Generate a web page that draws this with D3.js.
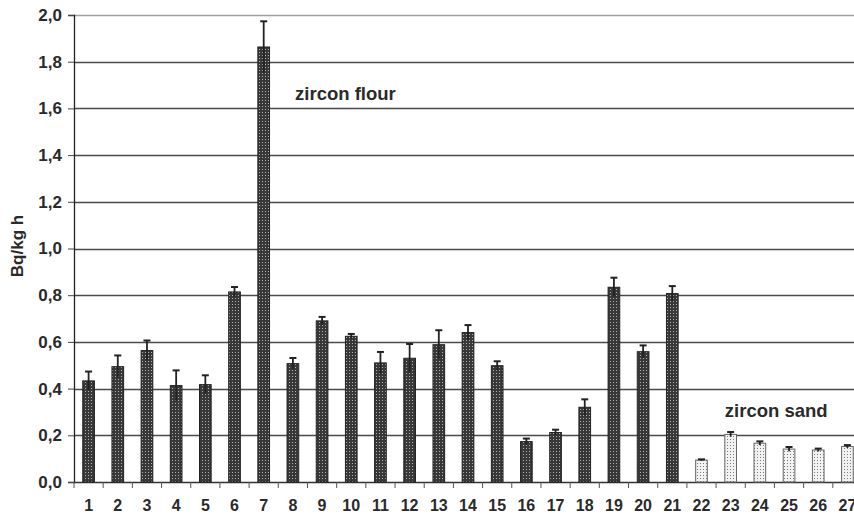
<!DOCTYPE html>
<html>
<head>
<meta charset="utf-8">
<script src="https://cdn.jsdelivr.net/npm/d3@7"></script>
<style>
  body { margin: 0; background: #fff; }
  svg { display: block; font-family: "Liberation Sans", Arial, sans-serif; }
</style>
</head>
<body>
<svg></svg>
<script>
let samples = ['1','2','3','4','5','6','7','8','9','10','11','12','13','14','15','16','17','18','19','20','21','22','23','24','25','26','27']
let values = [0.433,0.494,0.563,0.413,0.417,0.814,1.863,0.507,0.690,0.624,0.510,0.530,0.588,0.640,0.498,0.173,0.212,0.320,0.834,0.558,0.807,0.094,0.204,0.166,0.141,0.137,0.152]
let errors = [0.040,0.048,0.043,0.065,0.040,0.021,0.110,0.024,0.017,0.010,0.047,0.061,0.062,0.032,0.019,0.013,0.012,0.034,0.041,0.027,0.032,0.003,0.010,0.008,0.009,0.006,0.006]
let kinds = ['flour','flour','flour','flour','flour','flour','flour','flour','flour','flour','flour','flour','flour','flour','flour','flour','flour','flour','flour','flour','flour','sand','sand','sand','sand','sand','sand']
let yTicks = [0,0.2,0.4,0.6,0.8,1.0,1.2,1.4,1.6,1.8,2.0]

let width = 854
let height = 515
let plotLeft = 74
let plotRight = 862
let plotTop = 15
let plotBottom = 482

let svg = d3.select('svg')
svg.attr('width', width).attr('height', height)

let defs = svg.append('defs')

// dense dark hatch for zircon flour
let dark = defs.append('pattern')
    .attr('id','darkFill')
    .attr('width',3).attr('height',3)
    .attr('patternUnits','userSpaceOnUse')
dark.append('rect').attr('width',3).attr('height',3).attr('fill','#383838')
dark.append('rect').attr('x',1).attr('y',1).attr('width',1).attr('height',1).attr('fill','#b0b0b0')

// light dotted fill for zircon sand
let light = defs.append('pattern')
    .attr('id','lightFill')
    .attr('width',3).attr('height',3)
    .attr('patternUnits','userSpaceOnUse')
light.append('rect').attr('width',3).attr('height',3).attr('fill','#f2f2f2')
light.append('rect').attr('x',1).attr('y',1).attr('width',1).attr('height',1).attr('fill','#7a7a7a')

let xScale = d3.scaleBand()
    .domain(samples)
    .range([plotLeft, plotRight])
    .paddingInner(0.6)
    .paddingOuter(0.3)

let yScale = d3.scaleLinear()
    .domain([0, 2])
    .range([plotBottom, plotTop])

// grid lines
svg.append('g')
   .selectAll('line')
   .data(yTicks.filter(d => d > 0))
   .enter()
   .append('line')
   .attr('x1', plotLeft)
   .attr('x2', width)
   .attr('y1', d => Math.round(yScale(d)) + 0.5)
   .attr('y2', d => Math.round(yScale(d)) + 0.5)
   .attr('stroke', d => d === 2 ? '#9aa0a6' : '#4a4a4a')
   .attr('stroke-width', 1.3)

// y axis
let yAxis = d3.axisLeft(yScale)
    .tickValues(yTicks)
    .tickSize(6)
    .tickPadding(6)
    .tickFormat(d => d3.format('.1f')(d).replace('.', ','))

let yg = svg.append('g')
   .attr('transform', 'translate(' + plotLeft + ',0)')
   .call(yAxis)
yg.select('.domain').attr('stroke','#222').attr('stroke-width',1.3)
yg.selectAll('.tick line').attr('stroke','#444')
yg.selectAll('.tick text')
  .attr('font-size', 17)
  .attr('font-weight', 'bold')
  .attr('fill', '#2a2a2a')
  .attr('font-family', '"Liberation Sans", Arial, sans-serif')

// x axis line and ticks between categories
let step = xScale.step()
let half = step * xScale.paddingInner() / 2
svg.append('line')
   .attr('x1', plotLeft).attr('x2', width)
   .attr('y1', plotBottom + 0.5).attr('y2', plotBottom + 0.5)
   .attr('stroke', '#333').attr('stroke-width', 1.3)

svg.append('g')
   .selectAll('line')
   .data(samples)
   .enter()
   .append('line')
   .attr('x1', d => d === '1' ? plotLeft : xScale(d) - half)
   .attr('x2', d => d === '1' ? plotLeft : xScale(d) - half)
   .attr('y1', plotBottom)
   .attr('y2', plotBottom + 6)
   .attr('stroke', '#555')

svg.append('g')
   .selectAll('text')
   .data(samples)
   .enter()
   .append('text')
   .attr('x', d => xScale(d) + xScale.bandwidth() / 2)
   .attr('y', 511)
   .attr('text-anchor', 'middle')
   .attr('font-size', 16)
   .attr('font-weight', 'bold')
   .attr('fill', '#2a2a2a')
   .text(d => d)

// bars
svg.append('g')
   .selectAll('rect')
   .data(samples)
   .enter()
   .append('rect')
   .attr('x', d => xScale(d))
   .attr('y', (d, i) => yScale(values[i]))
   .attr('width', xScale.bandwidth())
   .attr('height', (d, i) => plotBottom - yScale(values[i]))
   .attr('fill', (d, i) => kinds[i] === 'flour' ? 'url(#darkFill)' : 'url(#lightFill)')
   .attr('stroke', (d, i) => kinds[i] === 'flour' ? '#222' : '#666')
   .attr('stroke-width', 1)

// error bars
let eg = svg.append('g')
eg.selectAll('line.err')
  .data(samples)
  .enter()
  .append('line')
  .attr('class', 'err')
  .attr('x1', d => xScale(d) + xScale.bandwidth() / 2)
  .attr('x2', d => xScale(d) + xScale.bandwidth() / 2)
  .attr('y1', (d, i) => yScale(values[i] - errors[i]))
  .attr('y2', (d, i) => yScale(values[i] + errors[i]))
  .attr('stroke', '#222')
  .attr('stroke-width', 1.8)
eg.selectAll('line.cap')
  .data(samples)
  .enter()
  .append('line')
  .attr('class', 'cap')
  .attr('x1', d => xScale(d) + xScale.bandwidth() / 2 - 3.5)
  .attr('x2', d => xScale(d) + xScale.bandwidth() / 2 + 3.5)
  .attr('y1', (d, i) => yScale(values[i] + errors[i]))
  .attr('y2', (d, i) => yScale(values[i] + errors[i]))
  .attr('stroke', '#222')
  .attr('stroke-width', 2)

// annotations
svg.append('text')
   .attr('x', xScale('8') + 8)
   .attr('y', yScale(1.635))
   .attr('font-size', 18.5)
   .attr('font-weight', 'bold')
   .attr('fill', '#2a2a2a')
   .text('zircon flour')

svg.append('text')
   .attr('x', xScale('23'))
   .attr('y', yScale(0.28))
   .attr('font-size', 18.5)
   .attr('font-weight', 'bold')
   .attr('fill', '#2a2a2a')
   .text('zircon sand')

// y axis title
svg.append('text')
   .attr('transform', 'translate(23,' + 246 + ') rotate(-90)')
   .attr('text-anchor', 'middle')
   .attr('font-size', 17)
   .attr('font-weight', 'bold')
   .attr('fill', '#2a2a2a')
   .text('Bq/kg h')
</script>
</body>
</html>
